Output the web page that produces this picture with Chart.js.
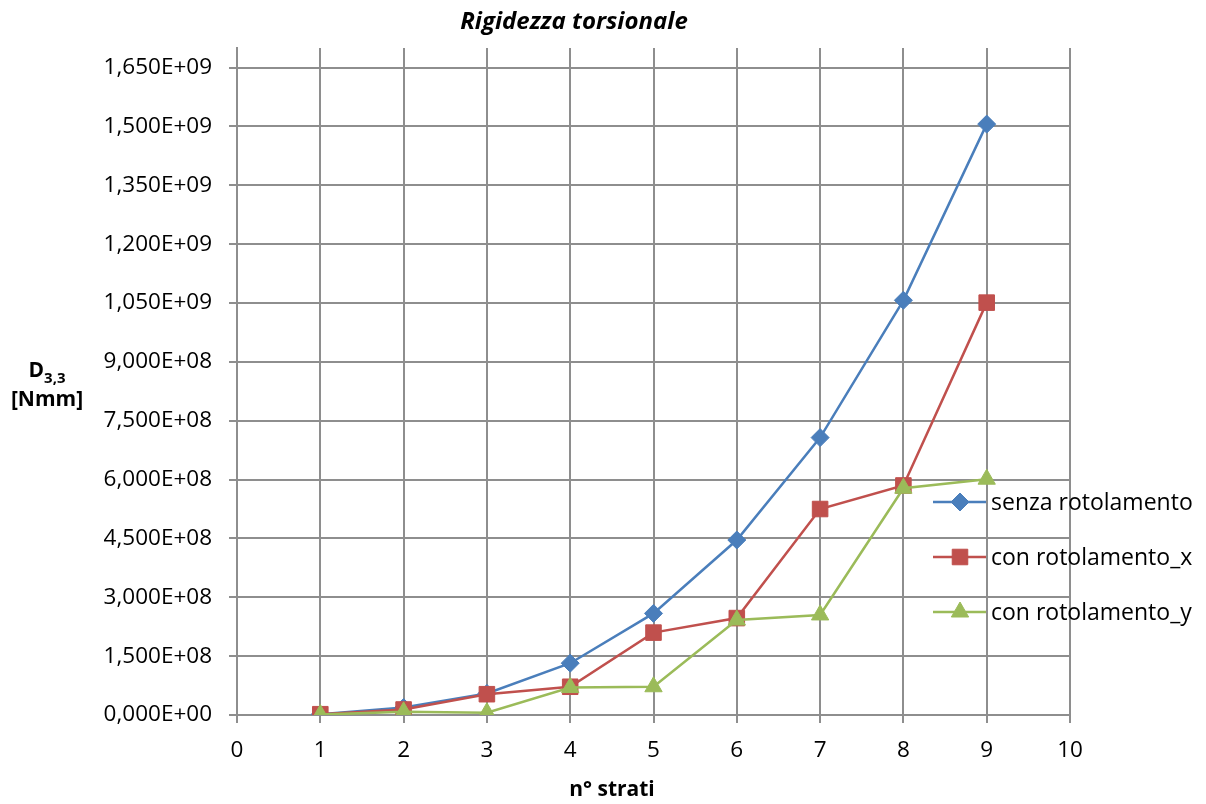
<!DOCTYPE html>
<html>
<head>
<meta charset="utf-8">
<title>Rigidezza torsionale</title>
<script src="https://cdn.jsdelivr.net/npm/chart.js@4/dist/chart.umd.min.js"></script>
<style>
  html, body { margin: 0; padding: 0; background: #fff; }
  #wrap { width: 1206px; height: 804px; }
</style>
</head>
<body>
<div id="wrap"><canvas id="chart" width="1206" height="804"></canvas></div>
<script>
// numero di strati
const strati = [1, 2, 3, 4, 5, 6, 7, 8, 9];

// D3,3 [Nmm]
const senzaRotolamento = [2e6, 1.9e7, 5.5e7, 1.32e8, 2.59e8, 4.46e8, 7.07e8, 1.057e9, 1.506e9];
const conRotolamentoX  = [2e6, 1.4e7, 5.3e7, 7.2e7, 2.1e8, 2.47e8, 5.25e8, 5.85e8, 1.051e9];
const conRotolamentoY  = [1e6, 8e6, 6e6, 7.0e7, 7.2e7, 2.42e8, 2.55e8, 5.78e8, 6.01e8];

const seriesNames = ["senza rotolamento", "con rotolamento_x", "con rotolamento_y"];

// tick dell'asse y e dell'asse x
const yTicks = [0, 1.5e8, 3e8, 4.5e8, 6e8, 7.5e8, 9e8, 1.05e9, 1.2e9, 1.35e9, 1.5e9, 1.65e9];
const xTicks = [0, 1, 2, 3, 4, 5, 6, 7, 8, 9, 10];

const FONT = "'Open Sans', sans-serif";
const GRID = "#8e8e8e";

// formato tipo Excel: 1,650E+09
function sciLabel(v) {
    let exp = 0;
    if (v !== 0) exp = Math.floor(Math.log10(Math.abs(v)) + 1e-9);
    const m = v / Math.pow(10, exp);
    return m.toFixed(3).replace(".", ",") + "E+" + String(exp).padStart(2, "0");
}

const toPoints = (vals) => strati.map((x, i) => ({ x: x, y: vals[i] }));

function series(label, vals, color, style, radius, order) {
    return {
        label: label,
        data: toPoints(vals),
        borderColor: color,
        backgroundColor: color,
        borderWidth: 2.5,
        pointStyle: style,
        pointRadius: radius,
        pointHoverRadius: radius,
        pointBorderWidth: 1,
        pointBorderColor: color,
        pointBackgroundColor: color,
        tension: 0,
        order: order
    };
}

// titolo, etichette degli assi e legenda disegnati a mano
const annotations = {
    id: "annotations",
    afterDraw(chart) {
        const ctx = chart.ctx;
        ctx.save();
        ctx.fillStyle = "#000";

        // titolo
        ctx.font = "italic bold 24px " + FONT;
        ctx.textAlign = "center";
        ctx.textBaseline = "alphabetic";
        ctx.fillText("Rigidezza torsionale", 574, 29);

        // asse x
        ctx.font = "bold 21px " + FONT;
        ctx.fillText("n° strati", 612, 796);

        // asse y: D con pedice 3,3
        ctx.textAlign = "left";
        ctx.font = "bold 21px " + FONT;
        const dW = ctx.measureText("D").width;
        ctx.font = "bold 15px " + FONT;
        const sW = ctx.measureText("3,3").width;
        const x0 = 47 - (dW + sW) / 2;
        ctx.font = "bold 21px " + FONT;
        ctx.fillText("D", x0, 377);
        ctx.font = "bold 15px " + FONT;
        ctx.fillText("3,3", x0 + dW, 383);
        ctx.textAlign = "center";
        ctx.font = "bold 21px " + FONT;
        ctx.fillText("[Nmm]", 47, 406);

        // legenda
        const lx = 933, ly = 502, gap = 55;
        ctx.textAlign = "left";
        ctx.textBaseline = "middle";
        ctx.font = "23px " + FONT;
        chart.data.datasets.forEach((ds, i) => {
            const y = ly + i * gap;
            ctx.strokeStyle = ds.borderColor;
            ctx.lineWidth = ds.borderWidth;
            ctx.beginPath();
            ctx.moveTo(lx, y);
            ctx.lineTo(lx + 53, y);
            ctx.stroke();
            ctx.fillStyle = ds.backgroundColor;
            ctx.strokeStyle = ds.borderColor;
            ctx.lineWidth = 1;
            Chart.helpers.drawPoint(ctx, {
                pointStyle: ds.pointStyle,
                radius: ds.pointRadius,
                rotation: 0,
                borderWidth: 1
            }, lx + 27, y);
            ctx.fillStyle = "#000";
            ctx.fillText(ds.label, lx + 58, y + 1);
        });
        ctx.restore();
    }
};

new Chart(document.getElementById("chart"), {
    type: "line",
    data: {
        datasets: [
            series(seriesNames[0], senzaRotolamento, "#4a7ebb", "rectRot", 9, 2),
            series(seriesNames[1], conRotolamentoX, "#c0504d", "rect", 11, 1),
            series(seriesNames[2], conRotolamentoY, "#9bbb59", "triangle", 10, 0)
        ]
    },
    options: {
        responsive: false,
        animation: false,
        devicePixelRatio: 1,
        layout: { padding: { left: 0, top: 48, right: 136, bottom: 0 } },
        plugins: {
            legend: { display: false },
            title: { display: false },
            tooltip: { enabled: false }
        },
        scales: {
            x: {
                type: "linear",
                min: 0,
                max: 10,
                afterFit: (s) => { s.height = 89; },
                afterBuildTicks: (s) => { s.ticks = xTicks.map(v => ({ value: v })); },
                ticks: {
                    color: "#000",
                    font: { family: FONT, size: 22.5 },
                    padding: 14,
                    maxRotation: 0,
                    callback: (v) => String(v)
                },
                grid: { color: GRID, lineWidth: 2, tickLength: 8, drawTicks: true },
                border: { display: true, color: GRID, width: 2 }
            },
            y: {
                type: "linear",
                min: 0,
                max: 1.7e9,
                afterFit: (s) => { s.width = 237; },
                afterBuildTicks: (s) => { s.ticks = yTicks.map(v => ({ value: v })); },
                ticks: {
                    color: "#000",
                    font: { family: FONT, size: 22.5 },
                    padding: 17,
                    callback: (v) => sciLabel(v)
                },
                grid: { color: GRID, lineWidth: 2, tickLength: 8, drawTicks: true },
                border: { display: true, color: GRID, width: 2 }
            }
        }
    },
    plugins: [annotations]
});
</script>
</body>
</html>
